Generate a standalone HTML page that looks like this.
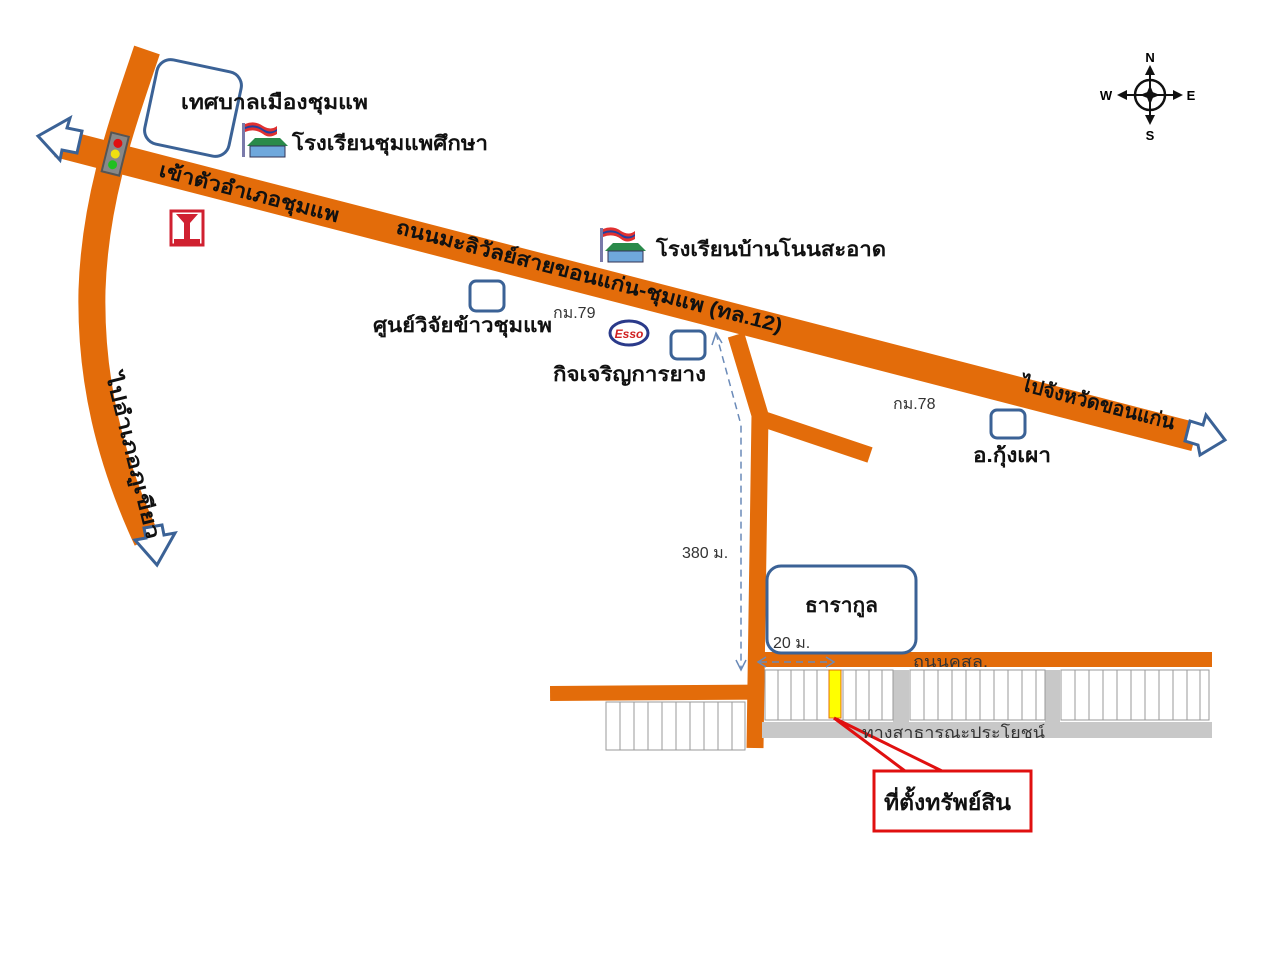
<!DOCTYPE html>
<html><head><meta charset="utf-8"><style>
html,body{margin:0;padding:0;background:#fff;}
svg{display:block;font-family:"Liberation Sans","DejaVu Sans","Noto Sans CJK SC",sans-serif;}
.b{font-weight:bold;fill:#111;}
</style></head><body>
<svg width="1280" height="960" viewBox="0 0 1280 960" xmlns="http://www.w3.org/2000/svg">
<!-- vertical left curved road -->
<path d="M147,50 C120,130 95,200 92,290 C90,380 110,460 147,540" fill="none" stroke="#E36C0A" stroke-width="27"/>
<!-- main diagonal road -->
<line x1="58" y1="143" x2="1195" y2="437" stroke="#E36C0A" stroke-width="29"/>
<!-- branch road -->
<polyline points="736,335 760,415 755,748" fill="none" stroke="#E36C0A" stroke-width="17" stroke-linejoin="miter"/>
<line x1="760" y1="418" x2="870" y2="455" stroke="#E36C0A" stroke-width="16"/>
<!-- bottom roads -->
<rect x="550" y="686" width="205" height="15" fill="#E36C0A" transform="rotate(-0.4 550 686)"/>
<rect x="760" y="652" width="452" height="15" fill="#E36C0A"/>
<!-- gray strips -->
<rect x="762" y="722" width="450" height="16" fill="#c8c8c8"/>
<rect x="893" y="670" width="16" height="55" fill="#c8c8c8"/>
<rect x="1045" y="670" width="15" height="55" fill="#c8c8c8"/>
<!-- lots -->
<g stroke="#9a9a9a" stroke-width="1" fill="#fff">
<rect x="606" y="702" width="139" height="48"/>
<rect x="765" y="670" width="128" height="50"/>
<rect x="910" y="670" width="135" height="50"/>
<rect x="1061" y="670" width="148" height="50"/>
</g>
<g stroke="#9a9a9a" stroke-width="1">
<path d="M620,702V750M634,702V750M648,702V750M662,702V750M676,702V750M690,702V750M704,702V750M718,702V750M732,702V750"/>
<path d="M778,670V720M791,670V720M804,670V720M817,670V720M843,670V720M856,670V720M869,670V720M882,670V720"/>
<path d="M924,670V720M938,670V720M952,670V720M966,670V720M980,670V720M994,670V720M1008,670V720M1022,670V720M1036,670V720"/>
<path d="M1075,670V720M1089,670V720M1103,670V720M1117,670V720M1131,670V720M1145,670V720M1159,670V720M1173,670V720M1187,670V720M1200,670V720"/>
</g>
<rect x="829" y="670" width="12" height="48" fill="#ffff00" stroke="#E36C0A" stroke-width="1"/>
<!-- arrowheads -->
<g fill="#fff" stroke="#3B6296" stroke-width="3" stroke-linejoin="miter">
<polygon points="38,136 70,118 67,128 82,131 77,153 62,150 60,160"/>
<polygon points="1225,440 1200,455 1198,445 1185,441 1190,421 1203,425 1206,415"/>
<polygon points="157,565 135,540 146,538 144,528 162,525 164,535 175,533"/>
</g>
<!-- traffic light -->
<g transform="rotate(14 115 155)">
<rect x="106" y="134" width="18" height="40" fill="#888" stroke="#555" stroke-width="2"/>
<circle cx="115" cy="143" r="4.5" fill="#e01010"/>
<circle cx="115" cy="154" r="4.5" fill="#f0e010"/>
<circle cx="115" cy="165" r="4.5" fill="#20c020"/>
</g>
<!-- isuzu -->
<rect x="171" y="211" width="32" height="34" fill="#fff" stroke="#d02030" stroke-width="3"/>
<path d="M176,214 h22 l-8,9 v16 h-6 v-16 z" fill="#d02030"/>
<rect x="174" y="239" width="26" height="5" fill="#d02030"/>
<!-- blue boxes -->
<g fill="none" stroke="#3B6296" stroke-width="3">
<rect x="150" y="65" width="86" height="86" rx="14" transform="rotate(12 193 108)"/>
<rect x="470" y="281" width="34" height="30" rx="6"/>
<rect x="671" y="331" width="34" height="28" rx="6"/>
<rect x="991" y="410" width="34" height="28" rx="6"/>
<rect x="767" y="566" width="149" height="87" rx="14"/>
</g>
<!-- school icons -->
<g id="sch">
<rect x="242" y="123" width="3" height="34" fill="#7a7aaa"/>
<path d="M245,124 q10,-4 18,2 q8,5 14,0 v8 q-8,5 -14,0 q-8,-6 -18,-2z" fill="#e03030"/>
<path d="M245,127 q10,-4 18,2 q8,5 14,0 v2 q-8,5 -14,0 q-8,-6 -18,-2z" fill="#2040a0"/>
<polygon points="247,146 255,138 280,138 288,146" fill="#2a8a4a"/>
<rect x="250" y="146" width="35" height="11" fill="#6fa8dc" stroke="#335" stroke-width="1"/>
</g>
<use href="#sch" transform="translate(358 105)"/>
<!-- esso -->
<ellipse cx="629" cy="333" rx="19" ry="12" fill="#fff" stroke="#2a3a8a" stroke-width="3"/>
<text x="629" y="338" font-size="12" font-weight="bold" fill="#d02020" text-anchor="middle" font-style="italic">Esso</text>
<!-- dashed dimension lines -->
<g stroke="#6a8ab8" stroke-width="1.5" stroke-dasharray="7,5" fill="none">
<path d="M716,333 L741,425 L741,668"/>
<line x1="760" y1="662" x2="832" y2="662"/>
</g>
<g stroke="#6a8ab8" stroke-width="1.5" fill="none">
<path d="M712,345 L716,333 L722,343"/>
<path d="M736,660 L741,670 L746,660"/>
<path d="M766,657 L758,662 L766,667"/>
<path d="M826,657 L834,662 L826,667"/>
</g>
<!-- red callout -->
<rect x="874" y="771" width="157" height="60" fill="#fff" stroke="#e01010" stroke-width="3"/>
<path d="M834,718 L905,771 M834,718 L942,771 M942,771 L958,771" stroke="#e01010" stroke-width="3" fill="none"/>
<text x="884" y="810" class="b" font-size="22" textLength="127" lengthAdjust="spacingAndGlyphs">ที่ตั้งทรัพย์สิน</text>
<!-- compass -->
<g transform="translate(1150 95)">
<circle r="15" fill="none" stroke="#111" stroke-width="2.5"/>
<line x1="-30" y1="0" x2="30" y2="0" stroke="#111" stroke-width="2"/>
<line x1="0" y1="-25" x2="0" y2="25" stroke="#111" stroke-width="2"/>
<polygon points="0,-10 4,0 0,10 -4,0" fill="#111"/><polygon points="-10,0 0,-4 10,0 0,4" fill="#111"/>
<polygon points="0,-30 -5,-20 5,-20" fill="#111"/><polygon points="0,30 -5,20 5,20" fill="#111"/>
<polygon points="-33,0 -23,-5 -23,5" fill="#111"/><polygon points="33,0 23,-5 23,5" fill="#111"/>
<text x="0" y="-33" font-size="13" font-weight="bold" text-anchor="middle">N</text>
<text x="0" y="45" font-size="13" font-weight="bold" text-anchor="middle">S</text>
<text x="-44" y="5" font-size="13" font-weight="bold" text-anchor="middle">W</text>
<text x="41" y="5" font-size="13" font-weight="bold" text-anchor="middle">E</text>
</g>
<!-- labels -->
<g class="b" font-size="20">
<text x="181" y="109" textLength="187" lengthAdjust="spacingAndGlyphs">เทศบาลเมืองชุมแพ</text>
<text x="292" y="150" textLength="196" lengthAdjust="spacingAndGlyphs">โรงเรียนชุมแพศึกษา</text>
<text x="656" y="256" textLength="230" lengthAdjust="spacingAndGlyphs">โรงเรียนบ้านโนนสะอาด</text>
<text x="373" y="332" textLength="179" lengthAdjust="spacingAndGlyphs">ศูนย์วิจัยข้าวชุมแพ</text>
<text x="553" y="381" textLength="153" lengthAdjust="spacingAndGlyphs">กิจเจริญการยาง</text>
<text x="973" y="462" textLength="78" lengthAdjust="spacingAndGlyphs">อ.กุ้งเผา</text>
<text x="805" y="612" textLength="73" lengthAdjust="spacingAndGlyphs">ธารากูล</text>
<text transform="translate(158 176) rotate(14.5)" textLength="185" lengthAdjust="spacingAndGlyphs">เข้าตัวอำเภอชุมแพ</text>
<text transform="translate(395 233) rotate(14.5)" textLength="398" lengthAdjust="spacingAndGlyphs">ถนนมะลิวัลย์สายขอนแก่น-ชุมแพ (ทล.12)</text>
<text transform="translate(1020 390) rotate(14.5)" textLength="158" lengthAdjust="spacingAndGlyphs">ไปจังหวัดขอนแก่น</text>
<text transform="translate(106 375) rotate(76)" textLength="170" lengthAdjust="spacingAndGlyphs">ไปอำเภอภูเขียว</text>
</g>
<g font-size="16" fill="#333">
<text x="553" y="318">กม.79</text>
<text x="893" y="409">กม.78</text>
<text x="682" y="558">380 ม.</text>
<text x="773" y="648">20 ม.</text>
<text x="913" y="667" textLength="75" lengthAdjust="spacingAndGlyphs">ถนนคสล.</text>
<text x="862" y="738" textLength="183" lengthAdjust="spacingAndGlyphs">ทางสาธารณะประโยชน์</text>
</g>
</svg>
</body></html>
